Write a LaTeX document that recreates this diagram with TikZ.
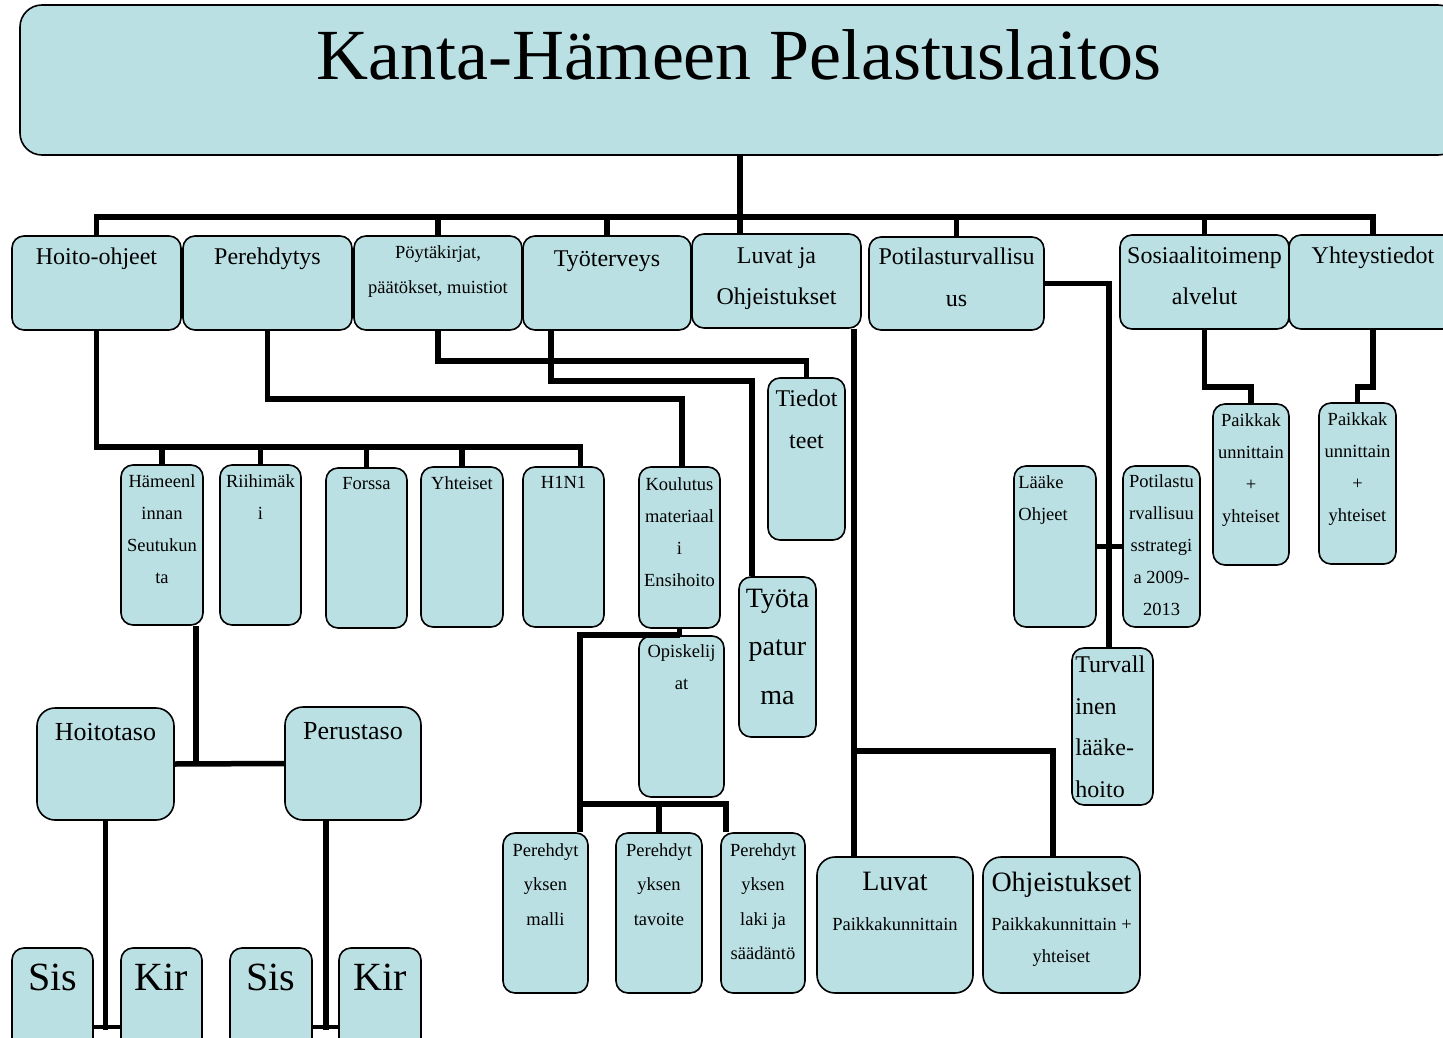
\documentclass[tikz,border=0pt]{standalone}
\usepackage{fontspec}
\setmainfont{Liberation Serif}
\usetikzlibrary{positioning}
\definecolor{tileblue}{RGB}{187,224,227}

\tikzset{
  tile/.style={draw=black, line width=1.6pt, fill=tileblue, rounded corners=12pt, inner sep=0pt},
  link/.style={line width=5.5pt},
  txt/.style={inner sep=0pt, align=center},
  fS/.style={font=\fontsize{18.5}{32}\selectfont},
  fSw/.style={font=\fontsize{18.5}{34.5}\selectfont},
  fM/.style={font=\fontsize{24}{41.5}\selectfont},
  fL/.style={font=\fontsize{28}{48.5}\selectfont},
}

\begin{document}
\begin{tikzpicture}[x=1pt, y=-1pt]
\useasboundingbox (0,0) rectangle (1443,1038);

% otsikko
\node[tile, rounded corners=22pt, minimum width=1440, minimum height=150] (title) at (740,80) {};
\node[anchor=base, font=\fontsize{72}{80}\selectfont] (title-t) at (739,80) {Kanta-Hämeen Pelastuslaitos};

% ylin taso
\node[tile, minimum width=169, minimum height=94] (hoito) at (96.5,283) {};
\node[txt, fM, below=12.5pt of hoito.north] (hoito-t) {Hoito-ohjeet};
\node[tile, minimum width=169, minimum height=94] (pere) at (267.5,283) {};
\node[txt, fM, below=12.5pt of pere.north] (pere-t) {Perehdytys};
\node[tile, minimum width=168, minimum height=94] (poyta) at (438,283) {};
\node[txt, fSw, below=10.5pt of poyta.north] (poyta-t) {Pöytäkirjat,\\päätökset, muistiot};
\node[tile, minimum width=168, minimum height=94] (tyo) at (607,283) {};
\node[txt, fM, below=15pt of tyo.north] (tyo-t) {Työterveys};
\node[tile, minimum width=169, minimum height=94] (luvja) at (776.5,281) {};
\node[txt, fM, below=14pt of luvja.north] (luvja-t) {Luvat ja\\Ohjeistukset};
\node[tile, minimum width=175, minimum height=93] (potil) at (956.5,283.5) {};
\node[txt, fM, below=11.5pt of potil.north] (potil-t) {Potilasturvallisu\\us};
\node[tile, minimum width=169, minimum height=94] (sosi) at (1204.5,282) {};
\node[txt, fM, below=12pt of sosi.north] (sosi-t) {Sosiaalitoimenp\\alvelut};
\node[tile, minimum width=168, minimum height=94] (yht) at (1373,282) {};
\node[txt, fM, below=12pt of yht.north] (yht-t) {Yhteystiedot};

% hoito-ohjeet
\node[tile, minimum width=82, minimum height=160] (hml) at (162,545) {};
\node[txt, fS, below=10.5pt of hml.north] (hml-t) {Hämeenl\\innan\\Seutukun\\ta};
\node[tile, minimum width=81, minimum height=160] (riihi) at (260.5,545) {};
\node[txt, fS, below=10.5pt of riihi.north] (riihi-t) {Riihimäk\\i};
\node[tile, minimum width=81, minimum height=160] (forssa) at (366.5,548) {};
\node[txt, fS, below=10pt of forssa.north] (forssa-t) {Forssa};
\node[tile, minimum width=82, minimum height=160] (yhteis) at (462,547) {};
\node[txt, fS, below=10pt of yhteis.north] (yhteis-t) {Yhteiset};
\node[tile, minimum width=81, minimum height=160] (h1n1) at (563.5,547) {};
\node[txt, fS, below=10pt of h1n1.north] (h1n1-t) {H1N1};

\node[tile, rounded corners=18pt, minimum width=137, minimum height=112] (hoitot) at (105.5,764) {};
\node[txt, font=\fontsize{26}{40}\selectfont, below=16pt of hoitot.north] (hoitot-t) {Hoitotaso};
\node[tile, rounded corners=18pt, minimum width=136, minimum height=113] (perust) at (353,763.5) {};
\node[txt, font=\fontsize{26}{40}\selectfont, below=16.5pt of perust.north] (perust-t) {Perustaso};

\node[tile, minimum width=81, minimum height=112] (sis1) at (52.5,1004) {};
\node[txt, font=\fontsize{40}{48}\selectfont, below=16.5pt of sis1.north] (sis1-t) {Sis};
\node[tile, minimum width=81, minimum height=112] (kir1) at (161.5,1004) {};
\node[txt, font=\fontsize{40}{48}\selectfont, below=16.5pt of kir1.north] (kir1-t) {Kir};
\node[tile, minimum width=82, minimum height=112] (sis2) at (271,1004) {};
\node[txt, font=\fontsize{40}{48}\selectfont, below=16.5pt of sis2.north] (sis2-t) {Sis};
\node[tile, minimum width=82, minimum height=112] (kir2) at (380,1004) {};
\node[txt, font=\fontsize{40}{48}\selectfont, below=16.5pt of kir2.north] (kir2-t) {Kir};

% perehdytys
\node[tile, minimum width=81, minimum height=161] (koul) at (679.5,547.5) {};
\node[txt, fS, below=11pt of koul.north] (koul-t) {Koulutus\\materiaal\\i\\Ensihoito};
\node[tile, minimum width=85, minimum height=161] (opis) at (681.5,716.5) {};
\node[txt, fS, below=9pt of opis.north] (opis-t) {Opiskelij\\at};
\node[tile, minimum width=85, minimum height=160] (pmalli) at (545.5,913) {};
\node[txt, fSw, below=11pt of pmalli.north] (pmalli-t) {Perehdyt\\yksen\\malli};
\node[tile, minimum width=86, minimum height=160] (ptav) at (659,913) {};
\node[txt, fSw, below=11pt of ptav.north] (ptav-t) {Perehdyt\\yksen\\tavoite};
\node[tile, minimum width=84, minimum height=160] (plaki) at (763,913) {};
\node[txt, fSw, below=11pt of plaki.north] (plaki-t) {Perehdyt\\yksen\\laki ja\\säädäntö};

% poytakirjat, tyoterveys
\node[tile, minimum width=77, minimum height=162] (tied) at (806.5,459) {};
\node[txt, fM, below=12.5pt of tied.north] (tied-t) {Tiedot\\teet};
\node[tile, minimum width=77, minimum height=160] (tyota) at (777.5,657) {};
\node[txt, fL, below=12.5pt of tyota.north] (tyota-t) {Työta\\patur\\ma};

% luvat ja ohjeistukset
\node[tile, rounded corners=18pt, minimum width=156, minimum height=136] (luvat) at (895,925) {};
\node[txt, fL, below=16pt of luvat.north] (luvat-t) {Luvat};
\node[txt, fS, below=61.5pt of luvat.north] (luvat-s) {Paikkakunnittain};
\node[tile, rounded corners=18pt, minimum width=157, minimum height=136] (ohj) at (1061.5,925) {};
\node[txt, fL, below=16pt of ohj.north] (ohj-t) {Ohjeistukset};
\node[txt, fS, below=61.5pt of ohj.north] (ohj-s) {Paikkakunnittain +\\yhteiset};

% potilasturvallisuus
\node[tile, minimum width=82, minimum height=161] (lk) at (1055,546.5) {};
\node[txt, fS, align=left, below right=10.5pt and 5pt of lk.north west] (lk-t) {Lääke\\Ohjeet};
\node[tile, minimum width=77, minimum height=161] (pst) at (1161.5,546.5) {};
\node[txt, fS, below=9.5pt of pst.north] (pst-t) {Potilastu\\rvallisuu\\sstrategi\\a 2009-\\2013};
\node[tile, minimum width=81, minimum height=157] (turv) at (1112.5,726.5) {};
\node[txt, fM, align=left, below right=8.5pt and 4pt of turv.north west] (turv-t) {Turvall\\inen\\lääke-\\hoito};

% sosiaalitoimi, yhteystiedot
\node[tile, minimum width=76, minimum height=161] (paik1) at (1251,484.5) {};
\node[txt, fS, below=10pt of paik1.north] (paik1-t) {Paikkak\\unnittain\\+\\yhteiset};
\node[tile, minimum width=77, minimum height=161] (paik2) at (1357.5,483.5) {};
\node[txt, fS, below=10pt of paik2.north] (paik2-t) {Paikkak\\unnittain\\+\\yhteiset};

% yhteydet
\coordinate (bus) at (740,217);
\draw[link] (title.south) -- (title.south |- luvja.north);
\draw[link] (hoito.north) |- (bus) -| (yht.north);
\foreach \n in {poyta,tyo,potil,sosi}
  \draw[link] (\n.north) -- (\n.north |- bus);

\coordinate (hbus) at (96.5,447);
\draw[link] (hoito.south) -- (hbus) -| ([xshift=17pt]h1n1.north);
\foreach \n in {hml,riihi,forssa,yhteis}
  \draw[link] (\n.north) -- (\n.north |- hbus);
\draw[link] (hoitot.east) -- (perust.west);
\draw[link] ([xshift=34pt]hml.south) -- ([xshift=34pt]hml.south |- hoitot.east);
\draw[link] (hoitot.south) -- ([yshift=-26pt]hoitot.south |- sis1.east);
\draw[line width=4pt] ([yshift=-23pt]sis1.east) -- ([yshift=-23pt]kir1.west);
\draw[link] ([xshift=-27pt]perust.south) -- ([xshift=-27pt, yshift=-26pt]perust.south |- sis2.east);
\draw[line width=4pt] ([yshift=-23pt]sis2.east) -- ([yshift=-23pt]kir2.west);

\draw[link] (pere.south) -- ++(0,68) -| ([xshift=2.5pt]koul.north);
\draw[link] (koul.south) -- (koul.south |- opis.north);
\draw[link] (koul.south |- opis.north) -| ([xshift=34.5pt]pmalli.north);
\draw[link] ([xshift=34.5pt, yshift=28pt]pmalli.north) -| ([xshift=-37pt]plaki.north);
\draw[link] (ptav.north) -- ++(0,-28);

\draw[link] (poyta.south) -- ++(0,30) -| (tied.north);
\draw[link] ([xshift=-56pt]tyo.south) -- ++(0,50) -| ([xshift=-25.5pt]tyota.north);

\draw[link] ([xshift=77.5pt]luvja.south) -- ([xshift=-41pt]luvat.north);
\draw[link] ([xshift=77.5pt]luvja.south) ++(0,422) -| ([xshift=-8.5pt]ohj.north);

\draw[link] (potil.east) -| ([xshift=-3.5pt]turv.north);
\draw[link] (lk.east) -- (pst.west);

\draw[link] (sosi.south) -- ++(0,57) -| (paik1.north);
\draw[link] (yht.south) -- ++(0,57) -| (paik2.north);
\end{tikzpicture}
\end{document}
